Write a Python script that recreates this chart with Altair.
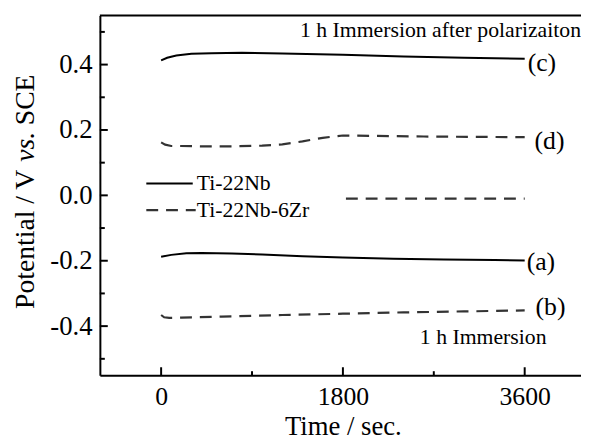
import altair as alt
import pandas as pd

# ---------------- data ----------------
c_time = [0, 60, 150, 300, 500, 800, 1200, 1800, 2400, 3000, 3600]
c_pot = [0.413, 0.421, 0.428, 0.433, 0.435, 0.436, 0.434, 0.430, 0.425, 0.421, 0.418]

d_time = [0, 40, 100, 200, 400, 700, 1000, 1200, 1400, 1600, 1800, 2100, 2600, 3100, 3600]
d_pot = [0.162, 0.155, 0.151, 0.151, 0.150, 0.150, 0.152, 0.156, 0.165, 0.176, 0.183, 0.182, 0.180, 0.179, 0.178]

a_time = [0, 100, 250, 400, 700, 1000, 1400, 1800, 2300, 2800, 3300, 3600]
a_pot = [-0.188, -0.182, -0.177, -0.176, -0.178, -0.181, -0.186, -0.190, -0.194, -0.196, -0.198, -0.199]

b_time = [0, 30, 80, 200, 600, 1200, 1800, 2400, 3000, 3600]
b_pot = [-0.366, -0.373, -0.375, -0.374, -0.371, -0.366, -0.362, -0.358, -0.355, -0.352]

e_time = [1830, 3600]
e_pot = [-0.010, -0.010]

curve_labels = ["(c)", "(d)", "(a)", "(b)"]
legend_labels = ["Ti-22Nb", "Ti-22Nb-6Zr"]
note_top = "1 h Immersion after polarizaiton"
note_bottom = "1 h Immersion"
x_title = "Time / sec."
y_title_parts = ["Potential / V", "vs.", "SCE"]

x_major_ticks = [0, 1800, 3600]
x_minor_ticks = [900, 2700]
y_major_ticks = [-0.4, -0.2, 0.0, 0.2, 0.4]
y_minor_ticks = [-0.5, -0.3, -0.1, 0.1, 0.3, 0.5]
x_domain = [-606.5, 4157.6]
y_domain = [-0.55, 0.55]

# ---------------- styling ----------------
FONT = "Liberation Serif"
W, H = 487, 364
SOLID = "#000000"
DASH = "#333333"
DASH_PATTERN = [12, 8]

x_scale = alt.Scale(domain=x_domain, nice=False, zero=False)
y_scale = alt.Scale(domain=y_domain, nice=False, zero=False)

x_axis = alt.Axis(
    values=x_major_ticks, ticks=False, tickSize=0, grid=False,
    labelFont=FONT, labelFontSize=26, labelColor="black", labelPadding=9,
    labelFlush=False, format="d",
    domainColor="black", domainWidth=2,
    title=x_title, titleFont=FONT, titleFontSize=27, titleFontWeight="normal",
    titleColor="black", titleBaseline="alphabetic", titleY=60, titleX=246,
)
y_axis = alt.Axis(
    values=y_major_ticks, ticks=False, tickSize=0, grid=False,
    labelFont=FONT, labelFontSize=27, labelColor="black", labelPadding=8,
    labelFlush=False,
    labelExpr="replace(format(datum.value, '.1f'), '\u2212', '-')",
    domainColor="black", domainWidth=2,
    title="",
)

X = lambda: alt.X("t:Q", scale=x_scale, axis=x_axis)
Y = lambda: alt.Y("v:Q", scale=y_scale, axis=y_axis)


def curve(t, v, dashed):
    df = pd.DataFrame({"t": t, "v": v})
    kw = dict(color=DASH if dashed else SOLID, strokeWidth=2.2 if dashed else 2)
    if dashed:
        kw["strokeDash"] = DASH_PATTERN
    return alt.Chart(df).mark_line(**kw).encode(x=X(), y=Y())


layers = [
    curve(c_time, c_pot, False),
    curve(d_time, d_pot, True),
    curve(a_time, a_pot, False),
    curve(b_time, b_pot, True),
    curve(e_time, e_pot, True),
]


# inward ticks
def yticks(vals, length):
    return alt.Chart(pd.DataFrame({"v": vals})).mark_rule(color="black", strokeWidth=2).encode(
        y=Y(), x=alt.value(0), x2=alt.value(length))


def xticks(vals, length):
    return alt.Chart(pd.DataFrame({"t": vals})).mark_rule(color="black", strokeWidth=2).encode(
        x=X(), y=alt.value(H), y2=alt.value(H - length))


layers += [yticks(y_major_ticks, 8), yticks(y_minor_ticks, 5),
           xticks(x_major_ticks, 8), xticks(x_minor_ticks, 4)]

# top frame line
layers.append(alt.Chart(pd.DataFrame({"k": [0]})).mark_rule(color="black", strokeWidth=2).encode(
    x=alt.value(0), x2=alt.value(W), y=alt.value(0)))

# curve-end labels
ends = [(c_time, c_pot, 3, 4), (d_time, d_pot, 10, 4), (a_time, a_pot, 2, 2), (b_time, b_pot, 11, -3)]
for lab, (t, v, dx, dy) in zip(curve_labels, ends):
    df = pd.DataFrame({"t": [t[-1]], "v": [v[-1]], "label": [lab]})
    layers.append(alt.Chart(df).mark_text(
        font=FONT, fontSize=26, align="left", baseline="middle", dx=dx, dy=dy, color="black"
    ).encode(x=X(), y=Y(), text="label:N"))

# legend
layers.append(alt.Chart(pd.DataFrame({"k": [0]})).mark_rule(color=SOLID, strokeWidth=2).encode(
    x=alt.value(47), x2=alt.value(94), y=alt.value(170)))
layers.append(alt.Chart(pd.DataFrame({"k": [0]})).mark_rule(
    color=DASH, strokeWidth=2.2, strokeDash=DASH_PATTERN).encode(
    x=alt.value(47), x2=alt.value(97), y=alt.value(197)))
for lab, yy in zip(legend_labels, [170, 197]):
    layers.append(alt.Chart(pd.DataFrame({"label": [lab]})).mark_text(
        font=FONT, fontSize=22, align="left", baseline="middle", color="black"
    ).encode(x=alt.value(98), y=alt.value(yy), text="label:N"))

# notes
layers.append(alt.Chart(pd.DataFrame({"label": [note_top]})).mark_text(
    font=FONT, fontSize=22, align="right", baseline="middle", color="black"
).encode(x=alt.value(W), y=alt.value(15), text="label:N"))
layers.append(alt.Chart(pd.DataFrame({"label": [note_bottom]})).mark_text(
    font=FONT, fontSize=22, align="center", baseline="middle", color="black"
).encode(x=alt.value(388), y=alt.value(325), text="label:N"))

# y-axis title with italic "vs."
for part, yy, style in zip(y_title_parts, [297, 148, 111], ["normal", "italic", "normal"]):
    layers.append(alt.Chart(pd.DataFrame({"label": [part]})).mark_text(
        font=FONT, fontSize=28, fontStyle=style, angle=270, align="left", baseline="middle",
        color="black"
    ).encode(x=alt.value(-75), y=alt.value(yy), text="label:N"))

chart = alt.layer(*layers).properties(
    width=W, height=H,
    autosize=alt.AutoSizeParams(type="none"),
    padding={"left": 93, "top": 5, "right": 0, "bottom": 64},
    background="white",
).configure_view(strokeWidth=0)

chart.save("out.html", embed_options={"renderer": "svg", "actions": False})
